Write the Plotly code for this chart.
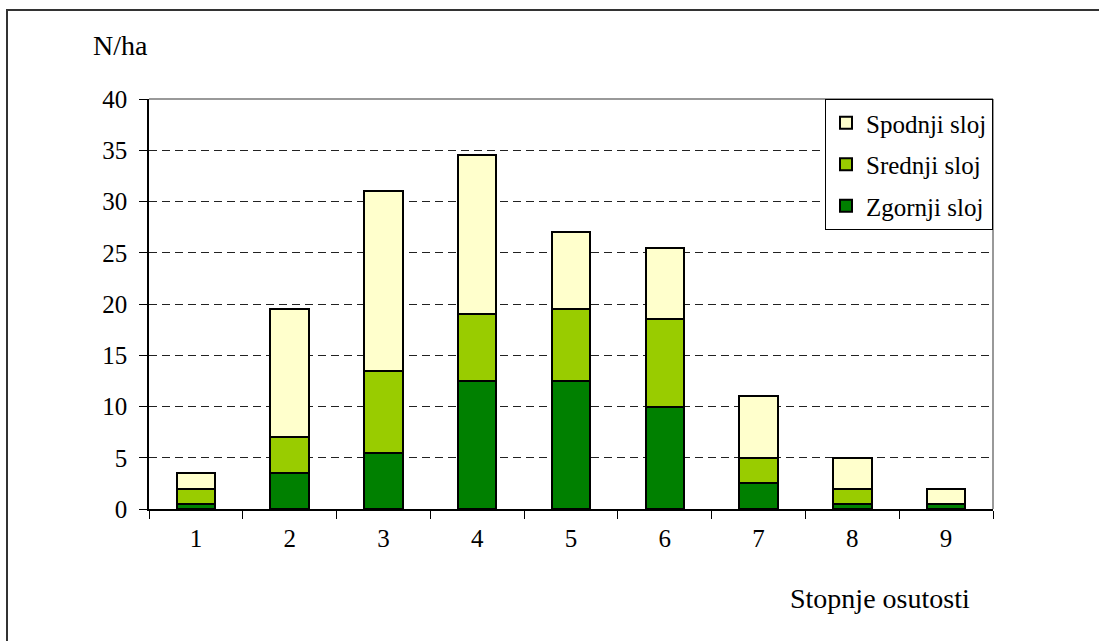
import plotly.graph_objects as go

# Stopnje osutosti (defoliation classes) and tree density per layer, N/ha
categories = ["1", "2", "3", "4", "5", "6", "7", "8", "9"]
zgornji = [0.5, 3.5, 5.5, 12.5, 12.5, 10.0, 2.5, 0.5, 0.5]
srednji = [1.5, 3.5, 8.0, 6.5, 7.0, 8.5, 2.5, 1.5, 0.0]
spodnji = [1.5, 12.5, 17.5, 15.5, 7.5, 7.0, 6.0, 3.0, 1.5]

# (name, values, fill colour, legend rank) - stacked bottom to top
series = [
    ("Zgornji sloj", zgornji, "#008000", 3),
    ("Srednji sloj", srednji, "#99CC00", 2),
    ("Spodnji sloj", spodnji, "#FFFFCC", 1),
]

FONT = "Liberation Serif"
TICK_FS = 25
LEG_FS = 25
TITLE_FS = 28
W, H = 1099, 641
L, R, T, B = 149, 106, 99, 132
PW, PH = W - L - R, H - T - B


def px(x):
    return (x - L) / PW


def py(y):
    return (H - B - y) / PH


fig = go.Figure()
for name, vals, color, rank in series:
    fig.add_trace(go.Bar(
        x=categories, y=vals, name=name,
        marker=dict(color=color, line=dict(color="black", width=2)),
        legendgroup=name, legendrank=rank,
    ))

fig.update_layout(
    width=W, height=H,
    margin=dict(l=L, r=R, t=T, b=B),
    barmode="stack",
    bargap=0.59,
    paper_bgcolor="white",
    plot_bgcolor="white",
    font=dict(family=FONT, size=TICK_FS, color="black"),
    showlegend=True,
    legend=dict(
        x=1.0, xanchor="right", y=1.0, yanchor="top",
        traceorder="grouped",
        tracegroupgap=6,
        bgcolor="white", bordercolor="black", borderwidth=1,
        font=dict(family=FONT, size=LEG_FS, color="black"),
        itemwidth=30,
    ),
    xaxis=dict(
        type="category",
        showline=True, linecolor="black", linewidth=1.5,
        ticks="outside", ticklen=8, tickcolor="black", tickwidth=1,
        tickson="boundaries",
        showgrid=False,
        ticklabelstandoff=6,
        tickfont=dict(family=FONT, size=TICK_FS),
    ),
    yaxis=dict(
        range=[0, 40], tick0=0, dtick=5,
        showline=True, linecolor="black", linewidth=1.5,
        ticks="outside", ticklen=8, tickcolor="black", tickwidth=1,
        showgrid=True, gridcolor="#222222", gridwidth=1, griddash="8px,5px",
        zeroline=False,
        ticklabelstandoff=7,
        tickfont=dict(family=FONT, size=TICK_FS),
    ),
    shapes=[
        # gray frame on top and right of plot area
        dict(type="line", xref="paper", yref="paper", x0=0, x1=1, y0=1, y1=1,
             line=dict(color="#999999", width=2)),
        dict(type="line", xref="paper", yref="paper", x0=1, x1=1, y0=0, y1=1,
             line=dict(color="#999999", width=2)),
        # outer chart frame
        dict(type="rect", xref="paper", yref="paper",
             x0=px(7), x1=px(1110), y0=py(10), y1=py(660),
             line=dict(color="#333333", width=2), fillcolor="rgba(0,0,0,0)"),
    ],
    annotations=[
        dict(text="N/ha", xref="paper", yref="paper", x=px(120), y=py(45),
             xanchor="center", yanchor="middle", showarrow=False,
             font=dict(family=FONT, size=TITLE_FS)),
        dict(text="Stopnje osutosti", xref="paper", yref="paper", x=px(880), y=py(598),
             xanchor="center", yanchor="middle", showarrow=False,
             font=dict(family=FONT, size=TITLE_FS)),
    ],
)

fig.write_html("out.html")
